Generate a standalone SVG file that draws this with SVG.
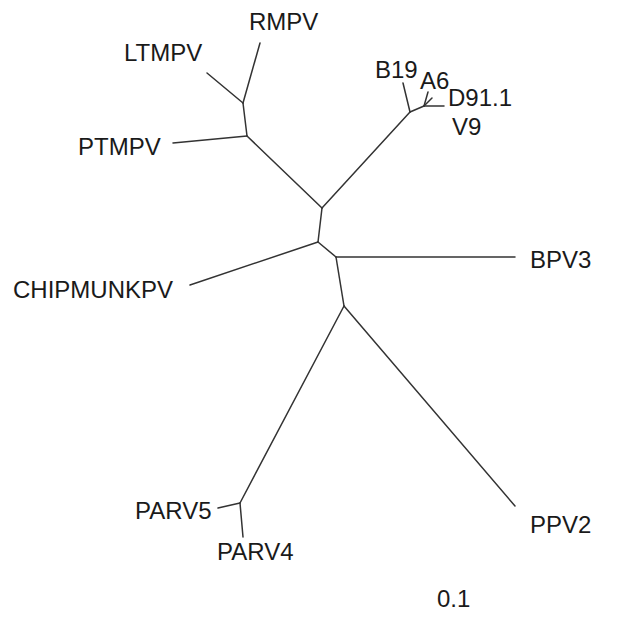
<svg xmlns="http://www.w3.org/2000/svg" width="632" height="626" viewBox="0 0 632 626">
<style>
.e{stroke:#333;stroke-width:1.5;fill:none;stroke-linecap:round}
text{font-family:"Liberation Sans",Arial,sans-serif;font-size:24px;fill:#1a1a1a}
</style>
<rect width="632" height="626" fill="#fff"/>
<g id="connectors">
<line class="e" x1="260" y1="43" x2="243" y2="103"/>
<line class="e" x1="207" y1="73" x2="243" y2="103"/>
<line class="e" x1="243" y1="103" x2="247" y2="136"/>
<line class="e" x1="173" y1="143" x2="247" y2="136"/>
<line class="e" x1="247" y1="136" x2="322" y2="208"/>
<line class="e" x1="322" y1="208" x2="410" y2="112"/>
<line class="e" x1="410" y1="112" x2="403" y2="83"/>
<line class="e" x1="410" y1="112" x2="424" y2="106"/>
<line class="e" x1="424" y1="106" x2="428" y2="92"/>
<line class="e" x1="424" y1="106" x2="432" y2="98"/>
<line class="e" x1="424" y1="106" x2="444" y2="106"/>
<line class="e" x1="322" y1="208" x2="318" y2="242"/>
<line class="e" x1="318" y1="242" x2="190" y2="285"/>
<line class="e" x1="318" y1="242" x2="336" y2="257"/>
<line class="e" x1="336" y1="257" x2="515" y2="257"/>
<line class="e" x1="336" y1="257" x2="344" y2="306"/>
<line class="e" x1="344" y1="306" x2="240" y2="503"/>
<line class="e" x1="240" y1="503" x2="218" y2="508"/>
<line class="e" x1="240" y1="503" x2="243" y2="537"/>
<line class="e" x1="344" y1="306" x2="515" y2="506"/>
</g>
<g id="RMPV"><text x="249" y="30">RMPV</text></g>
<g id="LTMPV"><text x="124" y="61">LTMPV</text></g>
<g id="PTMPV"><text x="78" y="155">PTMPV</text></g>
<g id="B19"><text x="375" y="78">B19</text></g>
<g id="A6"><text x="420" y="89">A6</text></g>
<g id="D91.1"><text x="448" y="106">D91.1</text></g>
<g id="V9"><text x="452" y="135">V9</text></g>
<g id="BPV3"><text x="530" y="268">BPV3</text></g>
<g id="CHIPMUNKPV"><text x="13" y="298">CHIPMUNKPV</text></g>
<g id="PARV5"><text x="135" y="519">PARV5</text></g>
<g id="PARV4"><text x="217" y="560">PARV4</text></g>
<g id="PPV2"><text x="530" y="533">PPV2</text></g>
<g id="scale"><text x="437" y="607">0.1</text></g>
</svg>
